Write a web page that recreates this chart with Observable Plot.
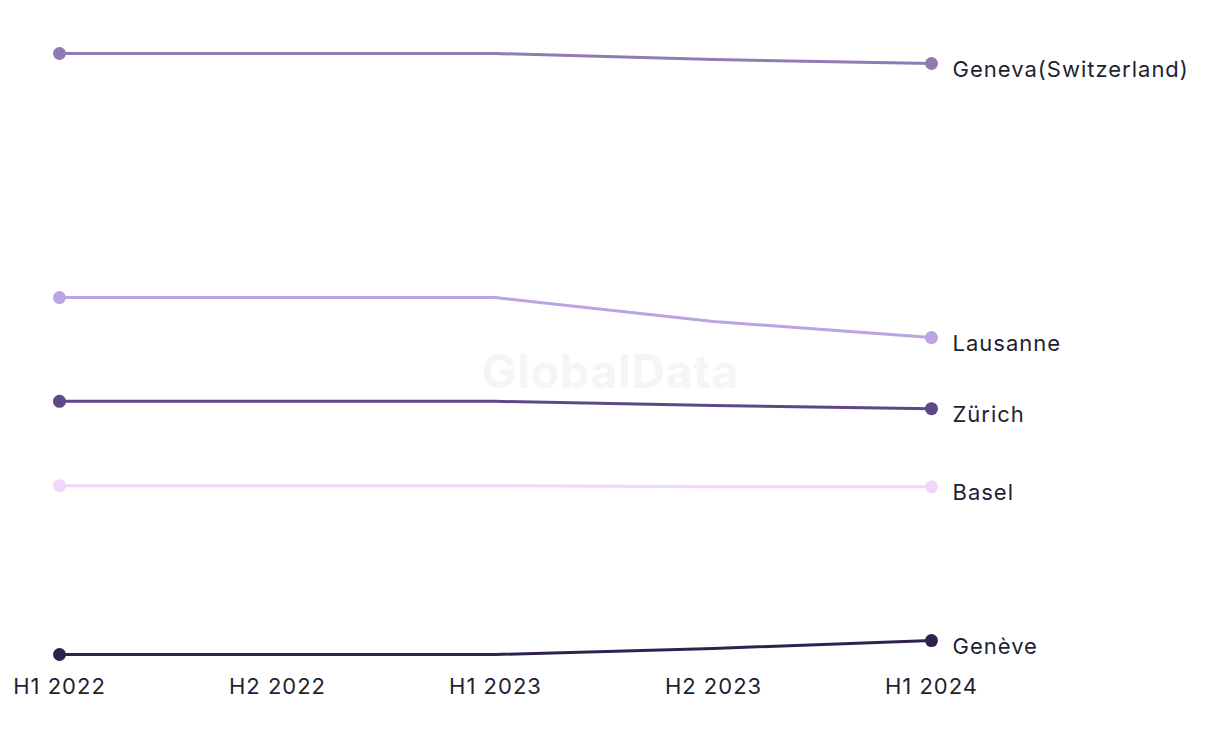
<!DOCTYPE html>
<html>
<head>
<meta charset="utf-8">
<script src="https://cdn.jsdelivr.net/npm/d3@7"></script>
<script src="https://cdn.jsdelivr.net/npm/@observablehq/plot@0.6"></script>
<style>
  html, body { margin: 0; padding: 0; background: #fff; }
  #chart svg { display: block; }
  #chart svg text { letter-spacing: 1px; }
</style>
</head>
<body>
<div id="chart"></div>
<script>
const periods = ["H1 2022", "H2 2022", "H1 2023", "H2 2023", "H1 2024"];
const cities = ["Geneva(Switzerland)", "Lausanne", "Zürich", "Basel", "Genève"];
const colors = ["#9179b4", "#bca3e3", "#5d4787", "#f0d7fa", "#32204f"];
const genevaCH = [100, 100, 100, 99.0, 98.35];
const lausanne = [59.8, 59.8, 59.8, 55.85, 53.2];
const zurich = [42.7, 42.7, 42.7, 42.0, 41.5];
const basel = [28.8, 28.8, 28.8, 28.65, 28.65];
const geneve = [1.0, 1.0, 1.0, 2.0, 3.3];

const seriesValues = [genevaCH, lausanne, zurich, basel, geneve];
const rows = [];
cities.forEach((c, i) => {
  seriesValues[i].forEach((v, j) => rows.push({city: c, period: periods[j], value: v, idx: j}));
});
const ends = rows.filter(d => d.idx === 0 || d.idx === periods.length - 1);
const lasts = rows.filter(d => d.idx === periods.length - 1);

const chart = Plot.plot({
  width: 1220,
  height: 744,
  marginTop: 0,
  marginLeft: 0,
  marginRight: 0,
  marginBottom: 74,
  style: {fontFamily: "Inter, 'Noto Sans', sans-serif", color: "#1f1f33", background: "#fff"},
  x: {type: "point", domain: periods, range: [57, 932], padding: 0, label: null},
  y: {domain: [0, 100], range: [660.07, 53], axis: null},
  color: {domain: cities, range: colors},
  marks: [
    Plot.text(["GlobalData"], {frameAnchor: "middle", dy: 38, fontSize: 46, fontWeight: "bold", fill: "#f5f5f5"}),
    Plot.line(rows, {x: "period", y: "value", z: "city", stroke: "city", strokeWidth: 3, curve: "linear"}),
    Plot.dot(ends, {x: "period", y: "value", fill: "city", r: 6.5}),
    Plot.text(lasts, {x: "period", y: "value", text: "city", textAnchor: "start", dx: 21, dy: 6, fontSize: 22, fill: "#1f1f33"}),
    Plot.axisX({tickSize: 0, tickPadding: 8, fontSize: 22, fill: "#1f1f33", label: null})
  ]
});
document.getElementById("chart").append(chart);
</script>
</body>
</html>
